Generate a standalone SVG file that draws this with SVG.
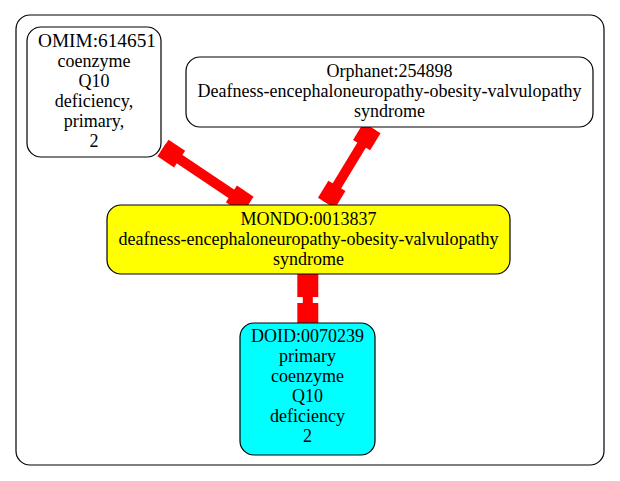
<svg xmlns="http://www.w3.org/2000/svg" width="620" height="481" viewBox="0 0 620 481">
<style>
.node{stroke:#000;stroke-width:1.2}
.t{font-family:"Liberation Serif","Times New Roman",serif;font-size:18px;text-anchor:middle;fill:#000}
.e{stroke:#ff0000;fill:none;stroke-linecap:butt}
.ln{stroke-width:10}
.bx{stroke-width:20}
</style>
<rect x="0" y="0" width="620" height="481" fill="#fff"/>
<rect id="cluster" x="16" y="15" width="588" height="450" rx="14" fill="none" stroke="#000" stroke-width="1.2"/>
<g id="connectors">
  <line class="e ln" x1="163" y1="148" x2="248" y2="205"/>
  <line class="e bx" x1="163" y1="148" x2="179.6" y2="159.1"/>
  <line class="e bx" x1="231.4" y1="193.9" x2="248" y2="205"/>
  <line class="e ln" x1="372" y1="128" x2="326.5" y2="203"/>
  <line class="e bx" x1="372" y1="128" x2="361.6" y2="145.1"/>
  <line class="e bx" x1="336.9" y1="185.9" x2="326.5" y2="203"/>
  <line class="e ln" x1="307.8" y1="274" x2="307.8" y2="323"/>
  <line class="e" stroke-width="21" x1="307.8" y1="274" x2="307.8" y2="297"/>
  <line class="e" stroke-width="21" x1="307.8" y1="303" x2="307.8" y2="323"/>
</g>
<g id="omim">
  <rect class="node" x="27" y="27" width="134" height="130" rx="14" fill="#fff"/>
  <text class="t" x="97" y="47" textLength="118" lengthAdjust="spacingAndGlyphs">OMIM:614651</text>
  <text class="t" x="94" y="67">coenzyme</text>
  <text class="t" x="94" y="87">Q10</text>
  <text class="t" x="94" y="107">deficiency,</text>
  <text class="t" x="94" y="127">primary,</text>
  <text class="t" x="94" y="147">2</text>
</g>
<g id="orphanet">
  <rect class="node" x="186" y="57" width="407" height="70" rx="14" fill="#fff"/>
  <text class="t" x="389.5" y="77">Orphanet:254898</text>
  <text class="t" x="389.5" y="97">Deafness-encephaloneuropathy-obesity-valvulopathy</text>
  <text class="t" x="389.5" y="117">syndrome</text>
</g>
<g id="mondo">
  <rect class="node" x="107" y="205" width="403" height="69" rx="14" fill="#ffff00"/>
  <text class="t" x="308.5" y="225">MONDO:0013837</text>
  <text class="t" x="308.5" y="245">deafness-encephaloneuropathy-obesity-valvulopathy</text>
  <text class="t" x="308.5" y="265">syndrome</text>
</g>
<g id="doid">
  <rect class="node" x="240" y="323" width="135" height="132" rx="14" fill="#00ffff"/>
  <text class="t" x="307.5" y="342">DOID:0070239</text>
  <text class="t" x="307.5" y="362">primary</text>
  <text class="t" x="307.5" y="382">coenzyme</text>
  <text class="t" x="307.5" y="402">Q10</text>
  <text class="t" x="307.5" y="422">deficiency</text>
  <text class="t" x="307.5" y="442">2</text>
</g>
</svg>
